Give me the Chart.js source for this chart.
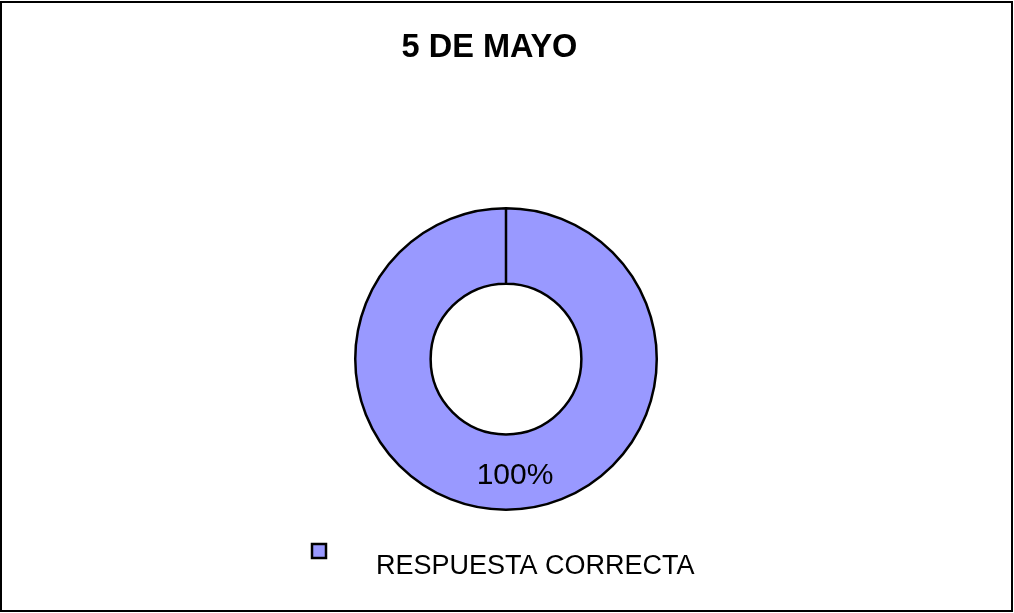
<!DOCTYPE html>
<html>
<head>
<meta charset="utf-8">
<title>5 DE MAYO</title>
<script src="https://cdn.jsdelivr.net/npm/chart.js@4/dist/chart.umd.min.js"></script>
<style>
  html, body { margin: 0; padding: 0; background: #ffffff; }
  #wrap { position: relative; width: 1014px; height: 613px; }
</style>
</head>
<body>
<div id="wrap"><canvas id="c" width="1014" height="613"></canvas></div>
<script>
// Chart data
const chartTitle = '5 DE MAYO';
const categories = ['RESPUESTA CORRECTA'];
const percentValues = [100];
const sliceColors = ['#9999FF'];

const FONT = '"Liberation Sans", Arial, Helvetica, sans-serif';

// Frame, title, custom legend and value labels
const decorations = {
  id: 'decorations',
  beforeDraw(chart) {
    const ctx = chart.ctx;
    ctx.save();
    ctx.fillStyle = '#ffffff';
    ctx.fillRect(0, 0, chart.width, chart.height);
    ctx.strokeStyle = '#000000';
    ctx.lineWidth = 2;
    ctx.strokeRect(1, 2, chart.width - 3, chart.height - 4);
    ctx.restore();
  },
  afterDraw(chart) {
    const ctx = chart.ctx;
    ctx.save();

    // title
    ctx.fillStyle = '#000000';
    ctx.font = 'bold 32.5px ' + FONT;
    ctx.textAlign = 'center';
    ctx.textBaseline = 'alphabetic';
    ctx.fillText(chartTitle, 489.5, 57);

    // value labels, placed at each arc's centroid
    const ds = chart.data.datasets[0];
    const total = ds.data.reduce((a, b) => a + b, 0);
    const meta = chart.getDatasetMeta(0);
    ctx.font = '30px ' + FONT;
    ctx.textAlign = 'center';
    ctx.textBaseline = 'middle';
    meta.data.forEach((arc, i) => {
      const p = arc.tooltipPosition();
      const pct = Math.round(ds.data[i] / total * 100) + '%';
      ctx.fillText(pct, p.x + 9, p.y + 4);
    });

    // legend
    ctx.font = '27px ' + FONT;
    ctx.textAlign = 'left';
    ctx.textBaseline = 'alphabetic';
    chart.data.labels.forEach((lab, i) => {
      const bx = 312, by = 544, bs = 14;
      ctx.fillStyle = ds.backgroundColor[i];
      ctx.fillRect(bx, by, bs, bs);
      ctx.strokeStyle = '#000000';
      ctx.lineWidth = 2.5;
      ctx.strokeRect(bx, by, bs, bs);
      ctx.fillStyle = '#000000';
      ctx.fillText(lab, 376, 574);
    });
    ctx.restore();
  }
};

new Chart(document.getElementById('c'), {
  type: 'doughnut',
  data: {
    labels: categories,
    datasets: [{
      data: percentValues,
      backgroundColor: sliceColors,
      borderColor: '#000000',
      borderWidth: 2.5,
      hoverOffset: 0,
      offset: 0
    }]
  },
  options: {
    responsive: false,
    animation: false,
    cutout: '50%',
    layout: { padding: { top: 207, bottom: 102, left: 0, right: 2 } },
    plugins: {
      legend: { display: false },
      title: { display: false },
      tooltip: { enabled: false }
    },
    events: []
  },
  plugins: [decorations]
});
</script>
</body>
</html>
